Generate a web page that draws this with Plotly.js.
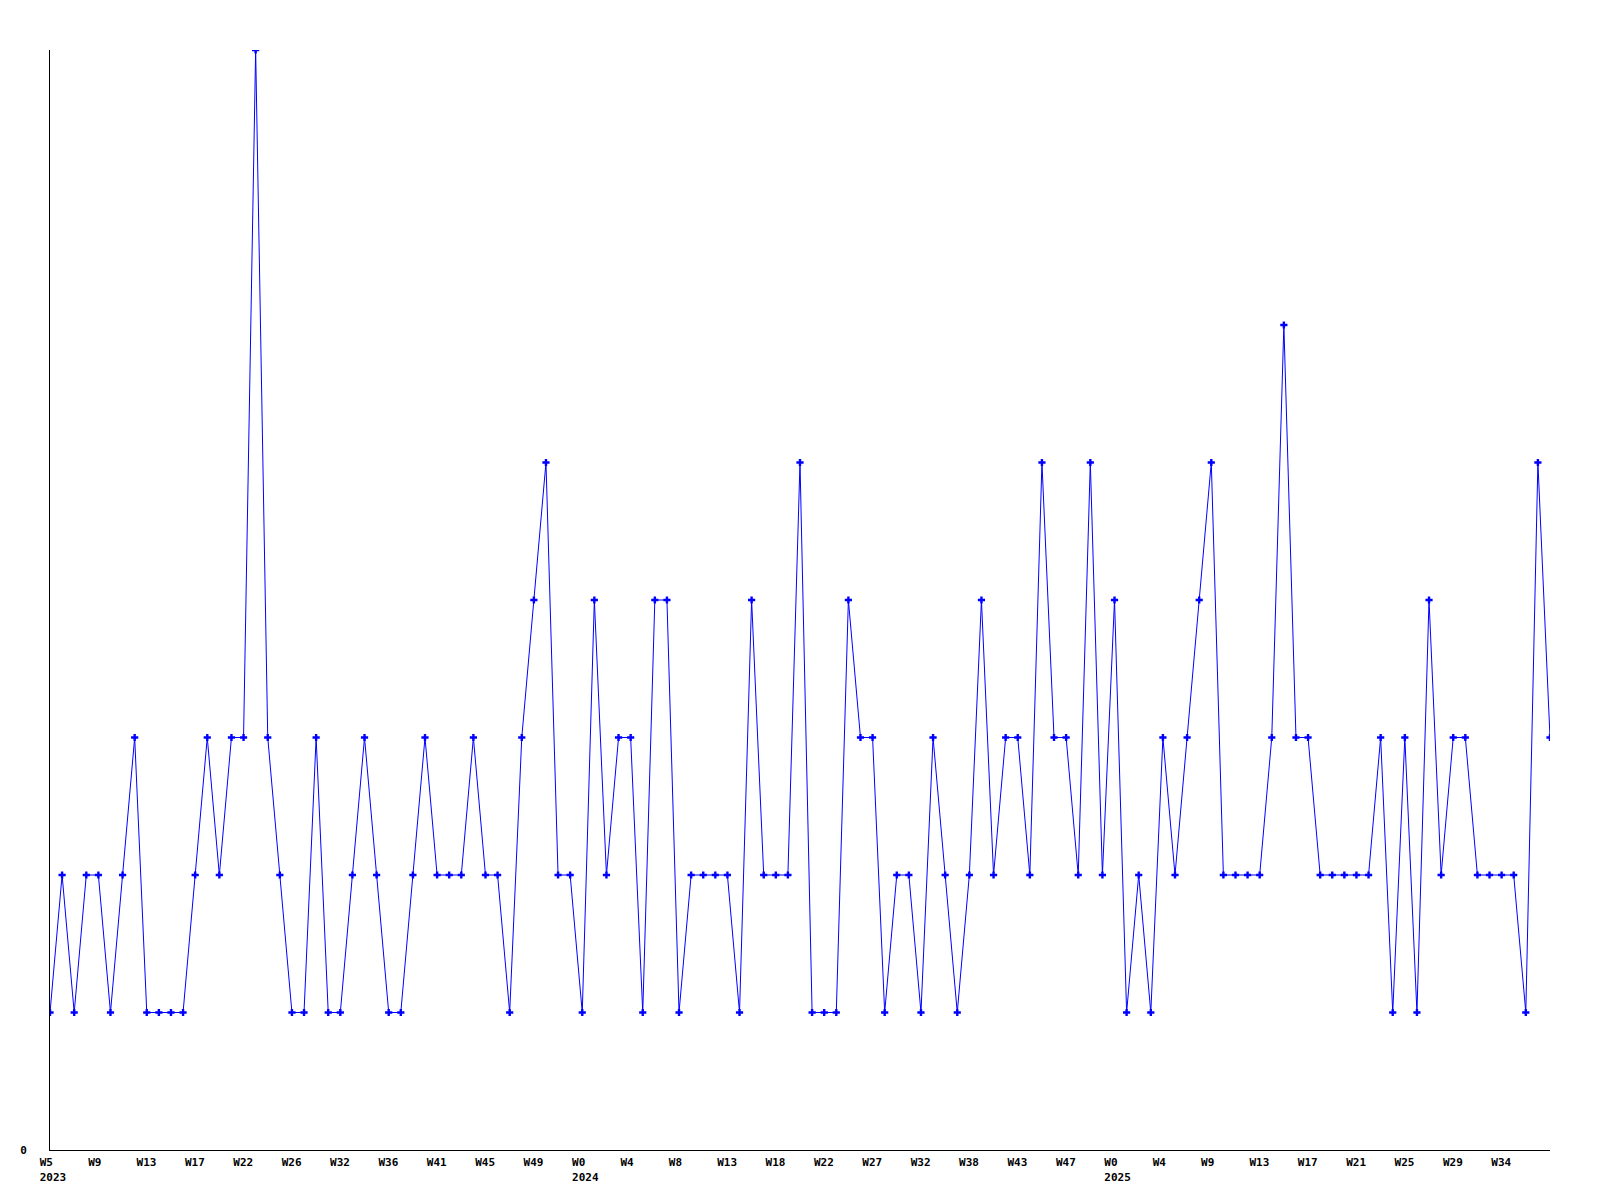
<!DOCTYPE html>
<html>
<head>
<meta charset="utf-8">
<script src="https://cdn.plot.ly/plotly-3.0.1.min.js"></script>
<style>html,body{margin:0;padding:0;background:#fff;}#chart{width:1600px;height:1200px;}</style>
</head>
<body>
<div id="chart"></div>
<script>
// Weekly counts, one per point
const values = [
  1,2,1,2,2,1,2,3,1,1,1,1,2,3,2,3,3,8,3,2,
  1,1,3,1,1,2,3,2,1,1,2,3,2,2,2,3,2,2,1,3,
  4,5,2,2,1,4,2,3,3,1,4,4,1,2,2,2,2,1,4,2,
  2,2,5,1,1,1,4,3,3,1,2,2,1,3,2,1,2,4,2,3,
  3,2,5,3,3,2,5,2,4,1,2,1,3,2,3,4,5,2,2,2,
  2,3,6,3,3,2,2,2,2,2,3,1,3,1,4,2,3,3,2,2,
  2,2,1,5,3
];
// Tick labels, one every 4 points
const tickWeeks = ["W5","W9","W13","W17","W22","W26","W32","W36","W41","W45","W49",
  "W0","W4","W8","W13","W18","W22","W27","W32","W38","W43","W47",
  "W0","W4","W9","W13","W17","W21","W25","W29","W34"];
const tickYears = ["2023","","","","","","","","","","",
  "2024","","","","","","","","","","",
  "2025","","","","","","","",""];
const tickStep = 4;

const xs = values.map((_, i) => i);
const NB = "\u00a0";
const pad = s => s + NB.repeat(Math.max(0, 4 - s.length));
const tickvals = tickWeeks.map((_, i) => i * tickStep);
const ticktext = tickWeeks.map((w, i) => tickYears[i] ? pad(w) + "<br>" + tickYears[i] : pad(w));

const font = {family: "DejaVu Sans Mono", size: 11, color: "#000", weight: "bold"};

Plotly.newPlot("chart", [{
  x: xs, y: values, type: "scatter", mode: "lines+markers",
  line: {color: "#0000ff", width: 1},
  marker: {symbol: "cross", size: 6, color: "#0000ff", line: {width: 0}},
  hoverinfo: "skip"
}], {
  width: 1600, height: 1200,
  margin: {l: 50, r: 50, t: 50, b: 50, pad: 0},
  paper_bgcolor: "#fff", plot_bgcolor: "#fff",
  showlegend: false,
  xaxis: {
    range: [0, values.length - 1], showgrid: false, zeroline: false,
    showline: true, linecolor: "#000", linewidth: 1,
    ticks: "", tickmode: "array", tickvals: tickvals, ticktext: ticktext,
    tickfont: font, ticklabelshift: 3, ticklabelstandoff: 2, fixedrange: true
  },
  yaxis: {
    range: [0, 8], showgrid: false, zeroline: false,
    showline: true, linecolor: "#000", linewidth: 1,
    ticks: "", tickmode: "array", tickvals: [0], ticktext: ["0"],
    tickfont: font, ticklabelstandoff: 20, fixedrange: true
  }
}, {staticPlot: true, displayModeBar: false});
</script>
</body>
</html>
